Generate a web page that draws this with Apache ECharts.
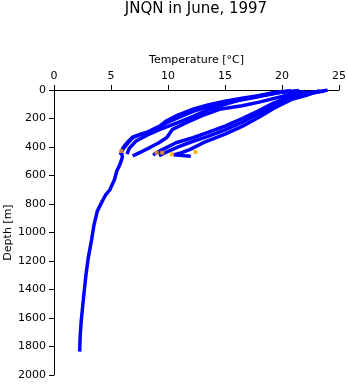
<!DOCTYPE html>
<html><head><meta charset="utf-8">
<script src="https://cdn.jsdelivr.net/npm/echarts@6/dist/echarts.min.js"></script>
<style>html,body{margin:0;padding:0;background:#fff}#c{width:348px;height:384px}</style>
</head><body><div id="c"></div>
<script>
// Temperature (°C) and depth (m) of each cast
var castA1T = [20.8,19.3,17.9,16.5,15,13.5,12.2,10.7,9.8,9.3,8.1,6.9,6.4,6.0,5.9,5.8];
var castA1D = [5,18,40,58,78,105,135,182,220,252,298,335,380,420,440,455];
var castA2T = [21.5,20,18.5,16.5,15,13.5,12.2,10.8,9.3,8.2,7.2,6.6,6.4];
var castA2D = [3,15,35,65,100,140,185,230,276,315,358,410,450];
var castA3T = [22,21,19.5,18,16.5,14.5,13,11.6,10.4,9.9,9.2,8.4,7.5,6.9];
var castA3D = [10,25,55,85,110,135,180,229,276,334,370,404,440,463];
var deepT = [20.5,19.3,17.9,16.5,15,13.5,12.2,11,10,9.2,8.5,7.6,6.9,6.4,6.1,5.9,6.0,5.8,5.5,5.3,4.9,4.5,4.2,3.8,3.5,3.3,3.0,2.8,2.6,2.4,2.3,2.25];
var deepD = [8,25,48,68,90,118,150,190,225,262,290,310,330,370,400,430,470,520,570,630,700,740,785,850,950,1050,1180,1300,1450,1610,1720,1836];
var castB1T = [23.7,22.2,20.8,19.3,17.9,16.5,15,13.5,12.2,10.7,9.6,8.9,8.7];
var castB1D = [8,18,42,90,148,200,253,298,335,370,415,445,458];
var castB2T = [24,22.5,21,19.5,18,16.5,15,13.5,12.2,11,10,9.5,9.2];
var castB2D = [0,25,55,105,165,225,280,325,360,395,430,450,460];
var castB3T = [23.3,22.2,20.8,19.3,17.9,16.5,15,13.1,11.9,11.2,10.5,11.5,12];
var castB3D = [5,35,68,128,195,255,310,370,418,440,455,462,465];
// bottom markers
var bottomT = [5.9,9.0,9.5,10.35,12.4];
var bottomD = [428,440,440,451,435];
// ticks
var tempTicks = [0,5,10,15,20,25];
var depthTicks = [0,200,400,600,800,1000,1200,1400,1600,1800,2000];

function pairs(t,d){return t.map(function(v,i){return [v,d[i]];});}
var casts = [[castA1T,castA1D],[castA2T,castA2D],[castA3T,castA3D],[deepT,deepD],[castB1T,castB1D],[castB2T,castB2D],[castB3T,castB3D]];
var series = casts.map(function(c){
  return {type:'line',data:pairs(c[0],c[1]),showSymbol:false,symbol:'none',
    lineStyle:{color:'#0000ff',width:3.5},silent:true,z:2};
});
series.push({type:'scatter',data:pairs(bottomT,bottomD),symbol:'rect',symbolSize:4,
  itemStyle:{color:'#ffa500'},z:3});

var font = 'DejaVu Sans';
var chart = echarts.init(document.getElementById('c'),null,{renderer:'canvas'});
chart.setOption({
  animation:false,
  backgroundColor:'#fff',
  title:{text:'JNQN in June, 1997',left:196,top:2,padding:0,textAlign:'center',
    textStyle:{fontFamily:font,fontSize:15,fontWeight:'normal',color:'#000'}},
  grid:{left:54,right:9,top:90,bottom:9,containLabel:false,outerBoundsMode:'none'},
  xAxis:{type:'value',position:'top',min:tempTicks[0],max:tempTicks[tempTicks.length-1],interval:5,
    name:'Temperature [°C]',nameLocation:'middle',nameGap:24,nameMoveOverlap:false,
    nameTextStyle:{fontFamily:font,fontSize:11,color:'#000'},
    axisLine:{show:true,lineStyle:{color:'#000',width:1}},
    axisTick:{show:true,inside:false,length:5,lineStyle:{color:'#000'}},
    axisLabel:{fontFamily:font,fontSize:11,color:'#000',margin:8},
    splitLine:{show:false}},
  yAxis:{type:'value',inverse:true,min:depthTicks[0],max:depthTicks[depthTicks.length-1],interval:200,
    name:'Depth [m]',nameLocation:'middle',nameGap:40,nameMoveOverlap:false,
    nameTextStyle:{fontFamily:font,fontSize:11,color:'#000'},
    axisLine:{show:true,lineStyle:{color:'#000',width:1}},
    axisTick:{show:true,inside:false,length:5,lineStyle:{color:'#000'}},
    axisLabel:{fontFamily:font,fontSize:11,color:'#000',margin:8,formatter:function(v){return String(v);}},
    splitLine:{show:false}},
  series:series
});
</script></body></html>
